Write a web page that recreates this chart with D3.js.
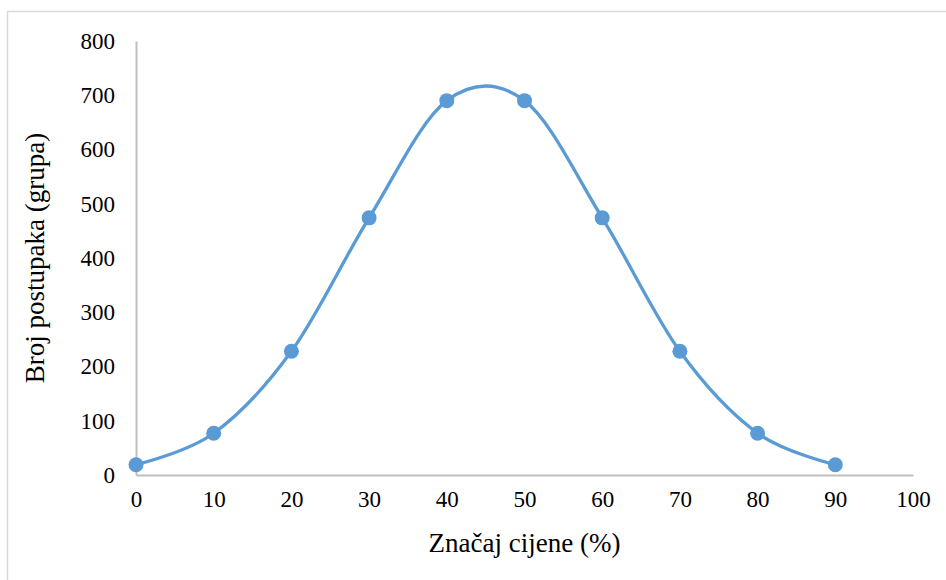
<!DOCTYPE html>
<html>
<head>
<meta charset="utf-8">
<script src="https://cdn.jsdelivr.net/npm/d3@7"></script>
<style>
  body { margin: 0; background: #fff; }
  svg text { font-family: "Liberation Serif", "Times New Roman", serif; fill: #000; }
</style>
</head>
<body>
<div id="chart"></div>
<script>
// values
let xValues = [0, 10, 20, 30, 40, 50, 60, 70, 80, 90];
let yValues = [19, 77, 228, 474, 690, 690, 474, 228, 77, 19];
let xTicks = [0, 10, 20, 30, 40, 50, 60, 70, 80, 90, 100];
let yTicks = [0, 100, 200, 300, 400, 500, 600, 700, 800];
let xTitle = "Značaj cijene (%)";
let yTitle = "Broj postupaka (grupa)";

let width = 946;
let height = 580;
let margins = { top: 41, right: 33, bottom: 105, left: 136 };

var svg = d3.select("#chart")
	.append("svg")
	.attr("width", width)
	.attr("height", height);

// outer chart border, runs off the right and bottom edges
svg.append("rect")
	.attr("x", 7.5)
	.attr("y", 11.5)
	.attr("width", width + 10)
	.attr("height", height + 10)
	.attr("fill", "none")
	.attr("stroke", "#d9d9d9")
	.attr("stroke-width", 1.5);

var x = d3.scaleLinear().domain([0, 100]).range([margins.left, width - margins.right]);
var y = d3.scaleLinear().domain([0, 800]).range([height - margins.bottom, margins.top]);

var xAxis = svg.append("g")
	.attr("transform", "translate(0," + y(0) + ")")
	.call(d3.axisBottom(x).tickValues(xTicks).tickSize(0).tickPadding(16));

var yAxis = svg.append("g")
	.attr("transform", "translate(" + x(0) + ",0)")
	.call(d3.axisLeft(y).tickValues(yTicks).tickSize(0).tickPadding(21));

[xAxis, yAxis].forEach(function (g) {
	g.select(".domain").attr("stroke", "#bfbfbf").attr("stroke-width", 2);
	g.selectAll("text").style("font-size", "23px").attr("fill", "#000");
});

svg.append("text")
	.attr("x", (x(0) + x(100)) / 2)
	.attr("y", 552)
	.attr("text-anchor", "middle")
	.style("font-size", "27px")
	.text(xTitle);

svg.append("text")
	.attr("transform", "translate(44," + (y(0) + y(800)) / 2 + ") rotate(-90)")
	.attr("text-anchor", "middle")
	.style("font-size", "27px")
	.text(yTitle);

var points = xValues.map(function (d, i) {
	return { x: d, y: yValues[i] };
});

// smoothed line, like the spreadsheet's
var line = d3.line()
	.x(function (d) { return x(d.x); })
	.y(function (d) { return y(d.y); })
	.curve(d3.curveCardinal.tension(0));

svg.append("path")
	.datum(points)
	.attr("d", line)
	.attr("fill", "none")
	.attr("stroke", "#5b9bd5")
	.attr("stroke-width", 3.3);

svg.selectAll("circle")
	.data(points)
	.enter()
	.append("circle")
	.attr("cx", function (d) { return x(d.x); })
	.attr("cy", function (d) { return y(d.y); })
	.attr("r", 7.5)
	.attr("fill", "#5b9bd5");
</script>
</body>
</html>
